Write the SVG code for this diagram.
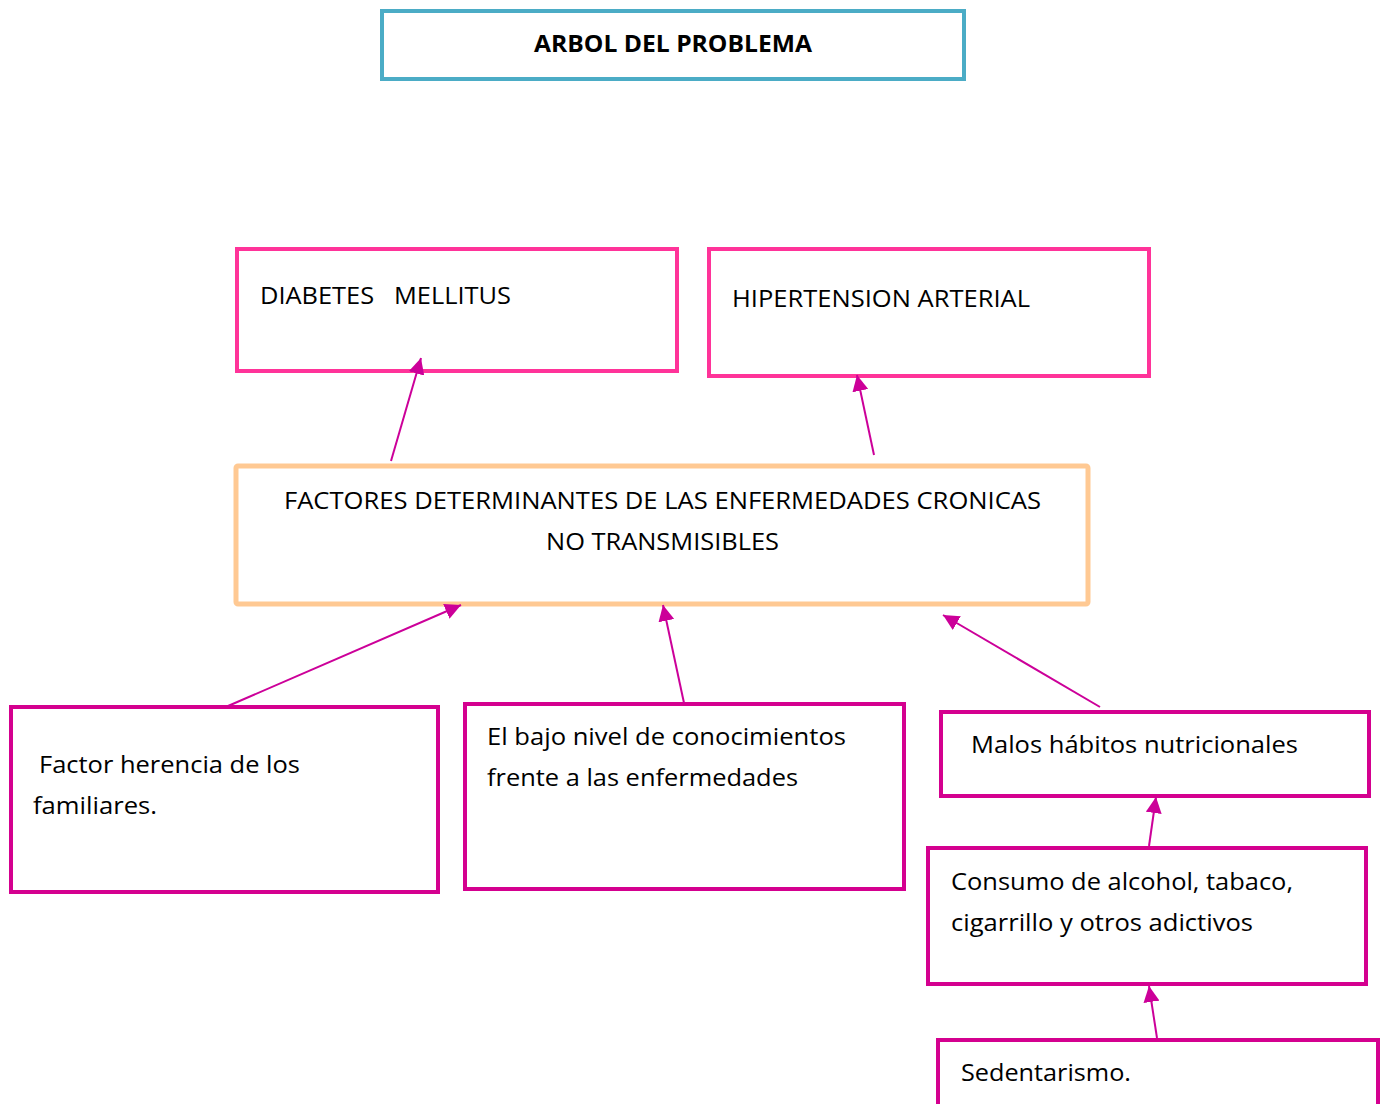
<svg xmlns="http://www.w3.org/2000/svg" width="1388" height="1104" viewBox="0 0 1388 1104">
<style>
.t{font-family:"Open Sans","Noto Sans","Liberation Sans",sans-serif;font-size:23px;fill:#000}
.b{font-weight:bold}
.box{fill:#fff}
.blue{stroke:#4BACC6;stroke-width:4}
.pink{stroke:#FF3399;stroke-width:4}
.org{stroke:#FFC993;stroke-width:5}
.mag{stroke:#D4008F;stroke-width:4}
.c{stroke:#CC0099;stroke-width:2;fill:none;marker-end:url(#ah)}
</style>
<defs>
<marker id="ah" markerUnits="userSpaceOnUse" markerWidth="20" markerHeight="16" refX="16" refY="8" orient="auto">
<path d="M0,0 L16,8 L0,16 Z" fill="#CC0099"/>
</marker>
</defs>
<rect width="1388" height="1104" fill="#fff"/>
<g id="title">
<rect class="box blue" x="382" y="11" width="582" height="68"/>
<text class="t b" x="534" y="52" textLength="278" lengthAdjust="spacingAndGlyphs">ARBOL DEL PROBLEMA</text>
</g>
<g id="diabetes">
<rect class="box pink" x="237" y="249" width="440" height="122"/>
<text class="t" x="260" y="304" textLength="251" lengthAdjust="spacingAndGlyphs" xml:space="preserve">DIABETES   MELLITUS</text>
</g>
<g id="hipertension">
<rect class="box pink" x="709" y="249" width="440" height="127"/>
<text class="t" x="732" y="307" textLength="298" lengthAdjust="spacingAndGlyphs">HIPERTENSION ARTERIAL</text>
</g>
<g id="factores">
<rect class="box org" x="236" y="466" width="852" height="138" rx="2"/>
<text class="t" x="284" y="509" textLength="757" lengthAdjust="spacingAndGlyphs">FACTORES DETERMINANTES DE LAS ENFERMEDADES CRONICAS</text>
<text class="t" x="546" y="550" textLength="233" lengthAdjust="spacingAndGlyphs">NO TRANSMISIBLES</text>
</g>
<g id="herencia">
<rect class="box mag" x="11" y="707" width="427" height="185"/>
<text class="t" x="39" y="773" textLength="261" lengthAdjust="spacingAndGlyphs">Factor herencia de los</text>
<text class="t" x="33" y="814" textLength="124" lengthAdjust="spacingAndGlyphs">familiares.</text>
</g>
<g id="conocimientos">
<rect class="box mag" x="465" y="704" width="439" height="185"/>
<text class="t" x="487" y="745" textLength="359" lengthAdjust="spacingAndGlyphs">El bajo nivel de conocimientos</text>
<text class="t" x="487" y="786" textLength="311" lengthAdjust="spacingAndGlyphs">frente a las enfermedades</text>
</g>
<g id="malos">
<rect class="box mag" x="941" y="712" width="428" height="84"/>
<text class="t" x="971" y="753" textLength="327" lengthAdjust="spacingAndGlyphs">Malos hábitos nutricionales</text>
</g>
<g id="consumo">
<rect class="box mag" x="928" y="848" width="438" height="136"/>
<text class="t" x="951" y="890" textLength="342" lengthAdjust="spacingAndGlyphs">Consumo de alcohol, tabaco,</text>
<text class="t" x="951" y="931" textLength="302" lengthAdjust="spacingAndGlyphs">cigarrillo y otros adictivos</text>
</g>
<g id="sedentarismo">
<rect class="box mag" x="938" y="1040" width="440" height="80"/>
<text class="t" x="961" y="1081" textLength="170" lengthAdjust="spacingAndGlyphs">Sedentarismo.</text>
</g>
<g id="connectors">
<line class="c" x1="391" y1="461" x2="421" y2="358"/>
<line class="c" x1="874" y1="455" x2="857" y2="375"/>
<line class="c" x1="228" y1="706" x2="461" y2="605"/>
<line class="c" x1="684" y1="703" x2="663" y2="605"/>
<line class="c" x1="1100" y1="707" x2="943" y2="615"/>
<line class="c" x1="1149" y1="846" x2="1156" y2="797"/>
<line class="c" x1="1157" y1="1038" x2="1149" y2="986"/>
</g>
</svg>
